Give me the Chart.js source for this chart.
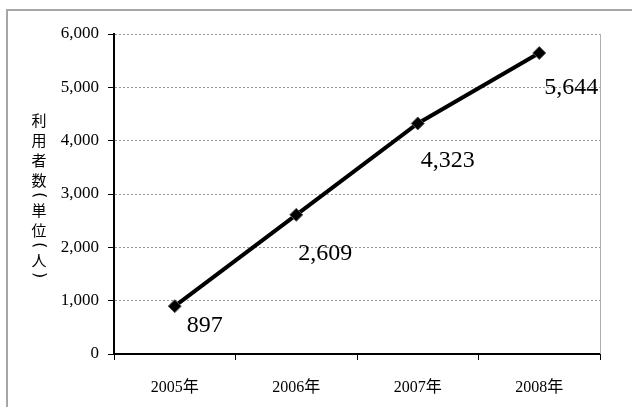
<!DOCTYPE html>
<html>
<head>
<meta charset="utf-8">
<script src="https://cdn.jsdelivr.net/npm/chart.js"></script>
<style>
  body { margin: 0; background: #fff; }
  #frame { position: absolute; left: 6px; top: 9px; width: 700px; height: 500px; border: 2px solid #a6a6a6; }
  #wrap { position: absolute; left: 0; top: 0; width: 632px; height: 407px; }
</style>
</head>
<body>
<div id="frame"></div>
<div id="wrap"><canvas id="riyousha" width="632" height="407"></canvas></div>
<script>
const years = ['2005年', '2006年', '2007年', '2008年'];
const users = [897, 2609, 4323, 5644];
const yTitle = ['利', '用', '者', '数', '(', '単', '位', '(', '人', ')'];

// Excel-style labels were nudged by hand, so keep the nudges here
const labelShift = [[12, 20], [2, 39], [3, 37], [5, 35]];

const serif = '"Liberation Serif", "Times New Roman", "Noto Sans CJK JP", serif';

const extras = {
  id: 'extras',
  afterDraw(chart) {
    const ctx = chart.ctx;
    const area = chart.chartArea;
    ctx.save();
    // right edge of plot area
    ctx.strokeStyle = '#b0b0b0';
    ctx.lineWidth = 1;
    ctx.beginPath();
    ctx.moveTo(area.right + 0.5, area.top);
    ctx.lineTo(area.right + 0.5, area.bottom);
    ctx.stroke();

    // value labels
    ctx.fillStyle = '#000';
    ctx.font = '24px ' + serif;
    ctx.textAlign = 'left';
    ctx.textBaseline = 'middle';
    chart.getDatasetMeta(0).data.forEach((pt, i) => {
      ctx.fillText(users[i].toLocaleString('en-US'), pt.x + labelShift[i][0], pt.y + labelShift[i][1]);
    });

    // vertical y axis title, brackets turned sideways
    ctx.textAlign = 'center';
    let y = 120;
    yTitle.forEach((ch, i) => {
      const paren = ch === '(' || ch === ')';
      if (i > 0) {
        const prev = yTitle[i - 1] === '(' || yTitle[i - 1] === ')';
        y += (paren || prev) ? 15 : 20;
      }
      if (paren) {
        ctx.font = '16px "DejaVu Sans", sans-serif';
        ctx.save();
        ctx.translate(39, y);
        ctx.rotate(Math.PI / 2);
        ctx.fillText(ch, 0, 0);
        ctx.restore();
      } else {
        ctx.font = '15px "Noto Sans CJK JP", sans-serif';
        ctx.fillText(ch, 39, y);
      }
    });
    ctx.restore();
  }
};

new Chart(document.getElementById('riyousha'), {
  type: 'line',
  data: {
    labels: years,
    datasets: [{
      data: users,
      borderColor: '#000',
      borderWidth: 4,
      tension: 0,
      pointStyle: 'rectRot',
      pointRadius: 6.5,
      pointBackgroundColor: '#000',
      pointBorderColor: '#555',
      pointBorderWidth: 1
    }]
  },
  options: {
    responsive: false,
    animation: false,
    layout: { padding: { top: 34, right: 32, bottom: 0, left: 0 } },
    plugins: {
      legend: { display: false },
      tooltip: { enabled: false }
    },
    scales: {
      x: {
        offset: true,
        afterFit: (s) => { s.height = 53; },
        grid: { offset: true, drawOnChartArea: false, drawTicks: true, tickLength: 6, tickColor: '#000' },
        border: { color: '#000', width: 2 },
        ticks: { color: '#000', font: { family: serif, size: 16 }, padding: 18 }
      },
      y: {
        min: 0,
        max: 6000,
        afterFit: (s) => { s.width = 114; },
        grid: {
          color: (c) => c.tick && c.tick.value === 0 ? 'rgba(0,0,0,0)' : '#999',
          lineWidth: 1,
          tickLength: 6,
          tickColor: '#000',
          tickBorderDash: []
        },
        border: { color: '#000', width: 2, dash: [2, 2] },
        ticks: {
          stepSize: 1000,
          color: '#000',
          padding: 9,
          font: { family: serif, size: 17 },
          callback: (v) => v.toLocaleString('en-US')
        }
      }
    }
  },
  plugins: [extras]
});
</script>
</body>
</html>
